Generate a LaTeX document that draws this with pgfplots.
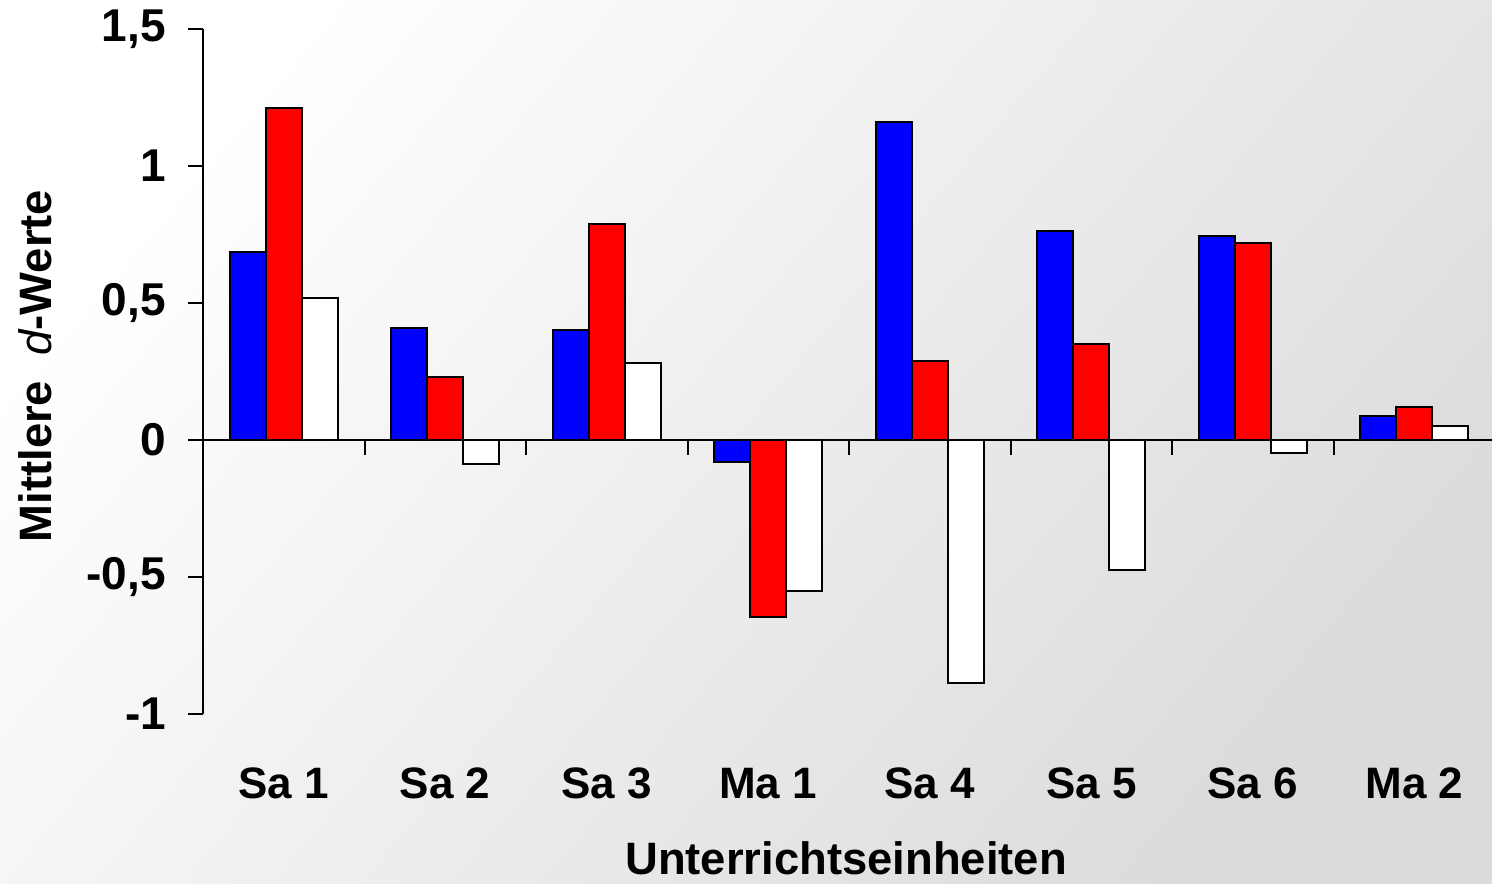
\documentclass[border=0pt]{standalone}
\usepackage{fontspec}
\setmainfont{Liberation Sans}
\usepackage{pgfplots}
\pgfplotsset{compat=1.18}
\begin{document}
\begin{tikzpicture}[x=1pt,y=1pt]
\shade[top color=white, bottom color=black!14, shading angle=50] (0,0) rectangle (746,441.5);
\path[use as bounding box] (0,0) rectangle (746,441.5);
\begin{axis}[
  at={(101.5pt,84.5pt)}, anchor=south west,
  scale only axis, width=646pt, height=342.5pt,
  clip=false,
  xmin=-0.5, xmax=7.5, ymin=-1, ymax=1.5,
  axis y line=left, axis x line=middle,
  hide obscured x ticks=false,
  axis line style={-, line width=1pt, black},
  tick style={line width=1pt, black},
  tick align=outside, major tick length=7.5pt,
  xtick={-0.5,0.5,...,7.5},
  x tick label as interval,
  xticklabels={Sa 1,Sa 2,Sa 3,Ma 1,Sa 4,Sa 5,Sa 6,Ma 2},
  xticklabel style={anchor=base, yshift=-171.5pt, font=\bfseries\fontsize{22}{26}\selectfont},
  ytick={-1,-0.5,0,0.5,1,1.5},
  yticklabels={-1,{-0,5},0,{0,5},1,{1,5}},
  yticklabel style={xshift=-7.5pt, font=\bfseries\fontsize{23}{27}\selectfont},
  xlabel={Unterrichtseinheiten},
  ylabel={Mittlere \ {\mdseries\itshape d}-Werte},
  every axis x label/.style={at={(axis description cs:0.4977,-0.211)}, anchor=center, font=\bfseries\fontsize{22.7}{26}\selectfont},
  every axis y label/.style={at={(axis description cs:-0.130,0.508)}, rotate=90, anchor=center, font=\bfseries\fontsize{22.7}{26}\selectfont},
]
\addplot[ybar, bar width=0.223, bar shift=-0.223, fill=blue, draw=black, line width=1pt] coordinates {
 (0,0.686) (1,0.41) (2,0.40) (3,-0.08) (4,1.16) (5,0.763) (6,0.745) (7,0.088)};
\addplot[ybar, bar width=0.223, bar shift=0, fill=red, draw=black, line width=1pt] coordinates {
 (0,1.21) (1,0.23) (2,0.79) (3,-0.646) (4,0.29) (5,0.35) (6,0.72) (7,0.12)};
\addplot[ybar, bar width=0.223, bar shift=0.223, fill=white, draw=black, line width=1pt] coordinates {
 (0,0.52) (1,-0.088) (2,0.28) (3,-0.55) (4,-0.887) (5,-0.474) (6,-0.047) (7,0.05)};
\end{axis}
\end{tikzpicture}
\end{document}
